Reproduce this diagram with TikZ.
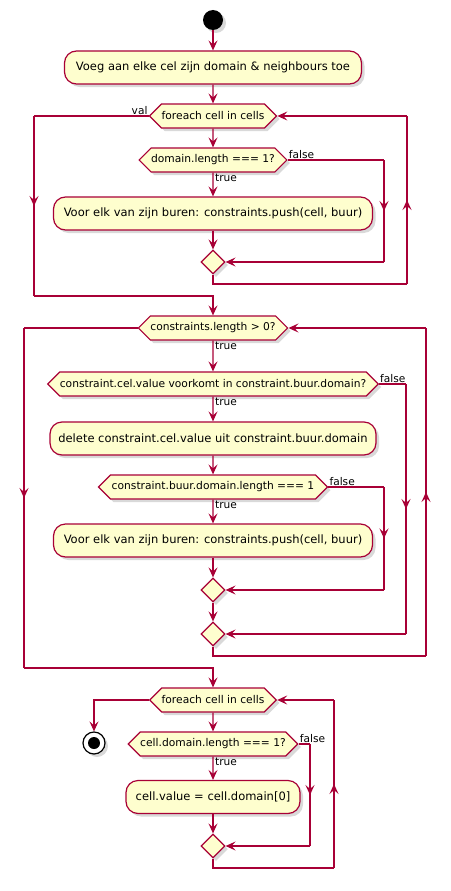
\documentclass[tikz,border=0pt]{standalone}
\usepackage{fontspec}
\setmainfont{DejaVu Sans}
\usetikzlibrary{shapes.geometric, shapes.symbols, arrows.meta, positioning, shadows, decorations.markings}
\definecolor{umlred}{HTML}{A80036}
\definecolor{umlfill}{HTML}{FEFECE}

\begin{document}
\begin{tikzpicture}[
        x=1pt, y=-1pt,
        umlshadow/.style={drop shadow={shadow xshift=3pt, shadow yshift=-3pt, opacity=0.3}},
        actbox/.style={draw=umlred, fill=umlfill, line width=1.2pt, rounded corners=12pt, minimum height=33pt, inner sep=0pt, font=\fontsize{11.5}{13}\selectfont, umlshadow},
        cond/.style={draw=umlred, fill=umlfill, line width=1.2pt, signal, signal to=west and east, signal pointer angle=90, minimum height=24pt, inner sep=0pt, font=\fontsize{10.7}{12}\selectfont, umlshadow},
        mergept/.style={draw=umlred, fill=umlfill, line width=1.2pt, diamond, minimum size=24pt, inner sep=0pt, umlshadow},
        flow/.style={draw=umlred, line width=1.2pt},
        arr/.style={flow, -{Stealth[length=10pt, width=9pt, inset=4pt]}},
        midarrow/.style={flow, postaction={decorate}, decoration={markings, mark=at position 0.5 with {\arrow{Stealth[length=10pt, width=9pt, inset=4pt]}}}},
        lbl/.style={font=\fontsize{10.6}{12}\selectfont, inner sep=1pt}
    ]
    \useasboundingbox (0,0) rectangle (450,891);

    % init
    \node[circle, fill=black, minimum size=20pt, inner sep=0pt, umlshadow] (start) at (213,20) {};
    \node[actbox, minimum width=297pt] (init) at (213,67.5) {Voeg aan elke cel zijn domain \& neighbours toe};

    % first loop
    \node[cond, minimum width=127pt] (loop1) at (213,116) {foreach cell in cells};
    \node[cond, minimum width=147pt] (dom1) at (213,160) {domain.length === 1?};
    \node[actbox, minimum width=319pt] (push1) at (213,213.5) {Voor elk van zijn buren: constraints.push(cell, buur)};
    \node[mergept] (end1) at (213,262) {};
    \coordinate (f1top) at (384,160); \coordinate (f1bot) at (384,262);
    \coordinate (r1bot) at (407,284); \coordinate (r1top) at (407,116);
    \coordinate (l1top) at (34,116);  \coordinate (l1bot) at (34,296);

    % constraint loop
    \node[cond, minimum width=147pt] (loop2) at (213,328) {constraints.length > 0?};
    \node[cond, minimum width=330pt] (has) at (213,384) {constraint.cel.value voorkomt in constraint.buur.domain?};
    \node[actbox, minimum width=326pt] (del) at (213,438.5) {delete constraint.cel.value uit constraint.buur.domain};
    \node[cond, minimum width=229pt] (single) at (213,487) {constraint.buur.domain.length === 1};
    \node[actbox, minimum width=319pt] (push2) at (213,540.5) {Voor elk van zijn buren: constraints.push(cell, buur)};
    \node[mergept] (end2) at (213,590) {};
    \node[mergept] (end3) at (213,634) {};
    \coordinate (f3top) at (384,487); \coordinate (f3bot) at (384,590);
    \coordinate (f2top) at (406,384); \coordinate (f2bot) at (406,634);
    \coordinate (r2bot) at (426,656); \coordinate (r2top) at (426,328);
    \coordinate (l2top) at (24,328);  \coordinate (l2bot) at (24,668);

    % last loop
    \node[cond, minimum width=125pt] (loop3) at (213,700) {foreach cell in cells};
    \node[cond, minimum width=167pt] (dom3) at (213,744) {cell.domain.length === 1?};
    \node[actbox, minimum width=174pt] (assign) at (213,797) {cell.value = cell.domain[0]};
    \node[mergept] (end4) at (213,846) {};
    \node[circle, draw=black, fill=white, line width=1.2pt, minimum size=22pt, inner sep=0pt, umlshadow] (stop) at (94,743) {};
    \node[circle, fill=black, minimum size=12pt, inner sep=0pt] (stopdot) at (stop) {};
    \coordinate (f4top) at (310,744); \coordinate (f4bot) at (310,846);
    \coordinate (r4bot) at (334,868); \coordinate (r4top) at (334,700);

    % edges
    \draw[arr] (start) -- (init);
    \draw[arr] (init) -- (loop1);
    \draw[arr] (loop1) -- (dom1);
    \draw[arr] (dom1) -- (push1);
    \draw[arr] (push1) -- (end1);
    \draw[flow] (dom1.east) -- (f1top); \draw[midarrow] (f1top) -- (f1bot); \draw[arr] (f1bot) -- (end1.east);
    \draw[flow] (end1.south) |- (r1bot); \draw[midarrow] (r1bot) -- (r1top); \draw[arr] (r1top) -- (loop1.east);
    \draw[flow] (loop1.west) -- (l1top); \draw[midarrow] (l1top) -- (l1bot); \draw[arr] (l1bot) -| (loop2.north);
    \node[lbl, anchor=south east] at (loop1.west) {val};
    \node[lbl, anchor=south west] at (dom1.east) {false};
    \node[lbl, anchor=north west] at ([xshift=1pt]dom1.south) {true};

    \draw[arr] (loop2) -- (has);
    \draw[arr] (has) -- (del);
    \draw[arr] (del) -- (single);
    \draw[arr] (single) -- (push2);
    \draw[arr] (push2) -- (end2);
    \draw[arr] (end2) -- (end3);
    \draw[flow] (single.east) -- (f3top); \draw[midarrow] (f3top) -- (f3bot); \draw[arr] (f3bot) -- (end2.east);
    \draw[flow] (has.east) -- (f2top); \draw[midarrow] (f2top) -- (f2bot); \draw[arr] (f2bot) -- (end3.east);
    \draw[flow] (end3.south) |- (r2bot); \draw[midarrow] (r2bot) -- (r2top); \draw[arr] (r2top) -- (loop2.east);
    \draw[flow] (loop2.west) -- (l2top); \draw[midarrow] (l2top) -- (l2bot); \draw[arr] (l2bot) -| (loop3.north);
    \node[lbl, anchor=north west] at ([xshift=1pt]loop2.south) {true};
    \node[lbl, anchor=north west] at ([xshift=1pt]has.south) {true};
    \node[lbl, anchor=south west] at (has.east) {false};
    \node[lbl, anchor=north west] at ([xshift=1pt]single.south) {true};
    \node[lbl, anchor=south west] at (single.east) {false};

    \draw[arr] (loop3.west) -| (stop.north);
    \draw[arr] (loop3) -- (dom3);
    \draw[arr] (dom3) -- (assign);
    \draw[arr] (assign) -- (end4);
    \draw[flow] (dom3.east) -- (f4top); \draw[midarrow] (f4top) -- (f4bot); \draw[arr] (f4bot) -- (end4.east);
    \draw[flow] (end4.south) |- (r4bot); \draw[midarrow] (r4bot) -- (r4top); \draw[arr] (r4top) -- (loop3.east);
    \node[lbl, anchor=north west] at ([xshift=1pt]dom3.south) {true};
    \node[lbl, anchor=south west] at (dom3.east) {false};
\end{tikzpicture}
\end{document}
